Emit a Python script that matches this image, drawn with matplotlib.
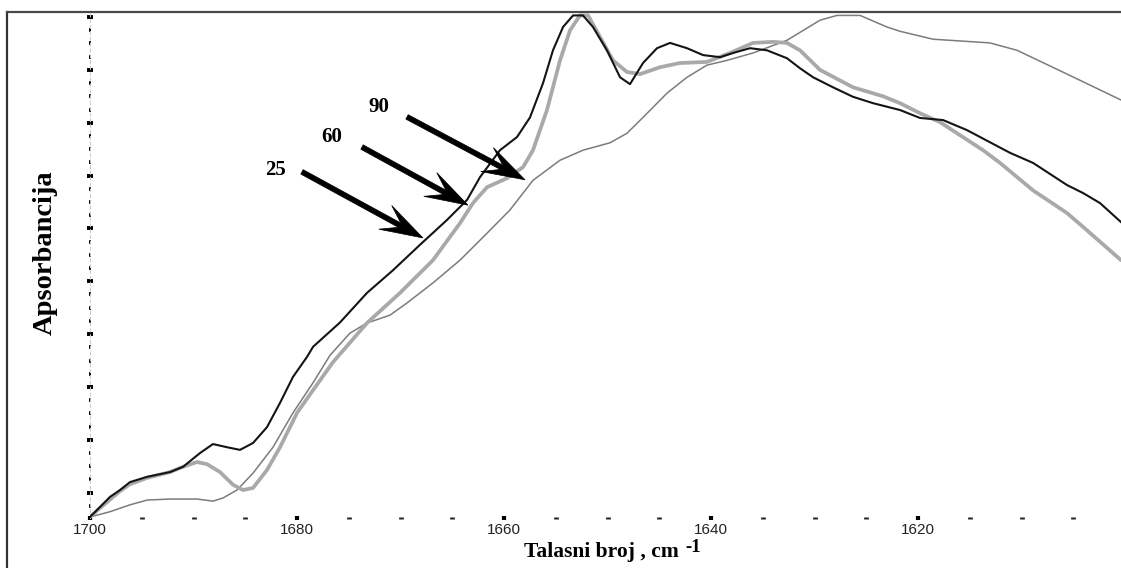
import matplotlib
matplotlib.use("Agg")
import matplotlib.pyplot as plt
from matplotlib.patches import Polygon
from matplotlib.lines import Line2D
from matplotlib.transforms import IdentityTransform
from matplotlib.ticker import MultipleLocator, FixedLocator
import numpy as np

# ---- spectra: wavenumber (cm^-1) and absorbance (a.u.) ----
wn_25 = [1700.00, 1699.03, 1698.07, 1697.10, 1696.14, 1694.49, 1692.27, 1691.01,
         1689.37, 1688.12, 1686.76, 1685.51, 1684.25, 1682.90, 1681.64, 1680.39,
         1679.03, 1678.45, 1675.85, 1673.24, 1670.72, 1668.12, 1665.51, 1663.57,
         1662.32, 1660.39, 1658.74, 1657.49, 1656.23, 1655.27, 1654.30, 1653.33,
         1652.37, 1651.40, 1650.05, 1648.79, 1647.83, 1646.57, 1645.22, 1643.96,
         1642.32, 1640.77, 1639.13, 1637.87, 1636.23, 1634.59, 1632.66, 1631.40,
         1630.14, 1628.21, 1626.28, 1624.35, 1621.74, 1619.81, 1617.58, 1615.27,
         1611.11, 1608.89, 1605.60, 1604.06, 1602.42, 1600.39]
abs_25 = [0.054, 0.073, 0.092, 0.105, 0.120, 0.130, 0.139, 0.149,
          0.175, 0.192, 0.186, 0.181, 0.194, 0.224, 0.270, 0.319,
          0.357, 0.376, 0.422, 0.478, 0.521, 0.569, 0.616, 0.654,
          0.697, 0.748, 0.773, 0.810, 0.875, 0.937, 0.981, 1.003,
          1.003, 0.981, 0.937, 0.886, 0.873, 0.913, 0.941, 0.951,
          0.941, 0.928, 0.924, 0.932, 0.941, 0.937, 0.922, 0.903,
          0.886, 0.867, 0.849, 0.837, 0.824, 0.809, 0.805, 0.786,
          0.743, 0.724, 0.682, 0.667, 0.648, 0.612]

wn_60 = [1700.00, 1699.03, 1697.10, 1696.14, 1694.49, 1692.27, 1691.01, 1689.66,
         1688.70, 1687.44, 1686.18, 1685.22, 1684.25, 1682.90, 1681.64, 1680.00,
         1678.45, 1676.52, 1673.24, 1670.05, 1666.86, 1664.25, 1663.00, 1661.64,
         1659.71, 1658.16, 1657.20, 1655.85, 1654.59, 1653.62, 1652.66, 1651.88,
         1650.72, 1649.47, 1648.12, 1646.86, 1644.93, 1643.00, 1640.39, 1638.16,
         1635.94, 1634.01, 1632.66, 1631.40, 1629.47, 1626.28, 1623.38, 1621.74,
         1619.81, 1617.87, 1613.72, 1612.08, 1608.89, 1605.60, 1604.06, 1600.39]
abs_60 = [0.054, 0.071, 0.103, 0.116, 0.128, 0.139, 0.149, 0.158,
          0.154, 0.139, 0.115, 0.105, 0.109, 0.143, 0.186, 0.251,
          0.294, 0.347, 0.421, 0.478, 0.540, 0.610, 0.648, 0.678,
          0.695, 0.716, 0.748, 0.824, 0.918, 0.975, 1.003, 1.003,
          0.962, 0.918, 0.896, 0.892, 0.905, 0.913, 0.915, 0.932,
          0.951, 0.953, 0.951, 0.937, 0.900, 0.867, 0.850, 0.837,
          0.818, 0.801, 0.748, 0.724, 0.672, 0.629, 0.603, 0.540]

wn_90 = [1700.00, 1698.07, 1696.14, 1694.49, 1692.27, 1689.66, 1688.12, 1687.15,
         1685.80, 1684.25, 1682.32, 1680.39, 1678.45, 1676.81, 1674.88, 1673.24,
         1671.01, 1669.37, 1666.86, 1664.25, 1661.64, 1659.42, 1657.20, 1654.59,
         1652.37, 1649.76, 1648.12, 1646.57, 1644.25, 1642.32, 1640.39, 1638.45,
         1635.94, 1632.66, 1629.47, 1627.83, 1625.60, 1622.99, 1621.74, 1618.55,
         1613.04, 1610.43, 1605.60, 1600.39]
abs_90 = [0.054, 0.064, 0.077, 0.086, 0.088, 0.088, 0.084, 0.090,
          0.105, 0.137, 0.186, 0.251, 0.308, 0.360, 0.402, 0.421,
          0.436, 0.459, 0.497, 0.540, 0.591, 0.635, 0.691, 0.729,
          0.748, 0.762, 0.780, 0.810, 0.856, 0.886, 0.909, 0.918,
          0.932, 0.956, 0.994, 1.003, 1.003, 0.981, 0.973, 0.958,
          0.951, 0.937, 0.892, 0.843]

# ---- axis ticks ----
x_major = [1700, 1680, 1660, 1640, 1620]
x_labels = ["1700", "1680", "1660", "1640", "1620"]

# ---- temperature call-outs ----
temp_labels = ["25", "60", "90"]
temp_label_xy = [(1682.03, 0.701), (1676.62, 0.763), (1672.08, 0.820)]
arrow_tail = [(1679.52, 0.707), (1673.72, 0.754), (1669.37, 0.811)]
arrow_tip = [(1667.83, 0.582), (1663.48, 0.644), (1657.97, 0.692)]

W, H, DPI = 1121, 568, 100
fig = plt.figure(figsize=(W / DPI, H / DPI), dpi=DPI)
fig.patch.set_facecolor("white")
ax = fig.add_axes([90 / W, (H - 518) / H, (W - 90) / W, (518 - 13) / H])
ax.set_xlim(1700, 1600.39)
ax.set_ylim(0.0521, 1.0076)

ax.plot(wn_90, abs_90, color="#7c7c7c", lw=1.1, solid_joinstyle="round", zorder=3)
ax.plot(wn_60, abs_60, color="#a9a9a9", lw=2.7, solid_joinstyle="round",
        solid_capstyle="round", zorder=4)
ax.plot(wn_25, abs_25, color="#141414", lw=1.5, solid_joinstyle="round", zorder=5)

for side in ("top", "right", "bottom"):
    ax.spines[side].set_visible(False)
ax.spines["left"].set_color("#c8c8c8")
ax.spines["left"].set_linewidth(0.7)
ax.spines["left"].set_linestyle((0, (3, 3)))

ax.xaxis.set_major_locator(FixedLocator(x_major))
ax.set_xticklabels(x_labels)
ax.xaxis.set_minor_locator(MultipleLocator(5))
ax.yaxis.set_major_locator(MultipleLocator(0.1))
ax.yaxis.set_minor_locator(MultipleLocator(0.025))

ax.tick_params(axis="x", which="major", direction="inout", length=2.6, width=3.0,
               color="black", labelsize=11, labelcolor="#222222", pad=2.5)
ax.tick_params(axis="x", which="minor", direction="inout", length=1.4, width=3.4,
               color="#222222")
ax.tick_params(axis="y", which="major", direction="inout", length=4.0, width=2.8,
               color="black", labelleft=False)
ax.tick_params(axis="y", which="minor", direction="inout", length=1.7, width=2.6,
               color="black")
for lbl in ax.get_xticklabels():
    lbl.set_fontfamily("Liberation Sans")

# outer frame (left and top edges)
fig.add_artist(Line2D([7 / W, 7 / W], [0, 1 - 12 / H], transform=fig.transFigure,
                      color="#333333", lw=1.6))
fig.add_artist(Line2D([7 / W, 1], [1 - 12 / H, 1 - 12 / H], transform=fig.transFigure,
                      color="#4a4a4a", lw=1.6))

serif = "Liberation Serif"
fig.text(45 / W, 1 - 253 / H, "Apsorbancija", rotation=90, ha="center", va="center",
         family=serif, weight="bold", size=20.5)

# x-axis title with raised exponent
xl_main = fig.text(0, 1 - 556.7 / H, "Talasni broj , cm", family=serif, weight="bold",
                   size=15.5, ha="left", va="baseline")
xl_sup = fig.text(0, 1 - 552.5 / H, "-1", family=serif, weight="bold",
                  size=13.5, ha="left", va="baseline")
fig.canvas.draw()
renderer = fig.canvas.get_renderer()
w_main = xl_main.get_window_extent(renderer).width
w_sup = xl_sup.get_window_extent(renderer).width
gap = 6
start = 612.5 - (w_main + gap + w_sup) / 2
xl_main.set_x(start / W)
xl_sup.set_x((start + w_main + gap) / W)

# call-out labels
for txt, (x, y) in zip(temp_labels, temp_label_xy):
    ax.text(x, y, txt, ha="center", va="baseline", family=serif, weight="bold",
            size=15, zorder=7)


def stealth_arrow(tail, tip, shaft=5.0, head_len=43.0, head_half=13.5, notch=0.62):
    """Filled arrow with a swept-back head, sized in pixels."""
    p0 = np.asarray(ax.transData.transform(tail), float)
    p1 = np.asarray(ax.transData.transform(tip), float)
    d = p1 - p0
    u = d / np.hypot(*d)
    n = np.array([-u[1], u[0]])
    base = p1 - u * head_len
    join = p1 - u * head_len * notch
    pts = [p0 + n * shaft / 2, join + n * shaft / 2, base + n * head_half, p1,
           base - n * head_half, join - n * shaft / 2, p0 - n * shaft / 2]
    fig.add_artist(Polygon(pts, closed=True, transform=IdentityTransform(),
                           facecolor="black", edgecolor="black", lw=0.5, zorder=8))


for tail, tip in zip(arrow_tail, arrow_tip):
    stealth_arrow(tail, tip)

fig.savefig("out.png", dpi=DPI, facecolor="white")
